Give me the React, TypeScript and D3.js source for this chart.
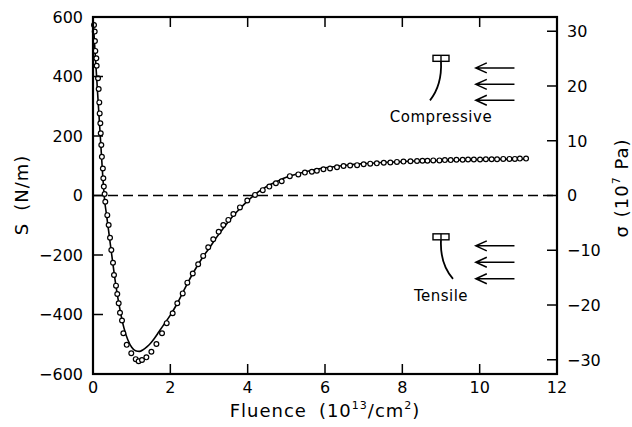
import React, { useRef, useEffect } from "react";
import * as d3 from "d3";

// measured points (open circles)
const measFluence = [
  0.026, 0.044, 0.05, 0.06, 0.086, 0.095, 0.13, 0.147, 0.163, 0.173, 0.19, 0.2, 0.215, 0.23, 0.255, 0.267,
  0.28, 0.3, 0.318, 0.37, 0.405, 0.44, 0.474, 0.517, 0.543, 0.595, 0.628, 0.664, 0.698, 0.75, 0.785, 0.872,
  0.99, 1.105, 1.18, 1.267, 1.38, 1.51, 1.64, 1.785, 1.906, 2.06, 2.18, 2.32, 2.44, 2.58, 2.72, 2.85, 2.98,
  3.11, 3.25, 3.37, 3.5, 3.63, 3.8, 3.99, 4.19, 4.39, 4.56, 4.73, 4.88, 5.09, 5.31, 5.48, 5.66, 5.79, 5.96,
  6.13, 6.31, 6.48, 6.65, 6.83, 7.0, 7.17, 7.34, 7.52, 7.69, 7.86, 8.03, 8.21, 8.38, 8.52, 8.65, 8.8, 8.96,
  9.1, 9.25, 9.4, 9.56, 9.7, 9.85, 10.01, 10.16, 10.31, 10.45, 10.61, 10.77, 10.91, 11.04, 11.2,
];
const measStress = [
  573, 551, 519, 486, 461, 436, 394, 358, 313, 276, 243, 209, 170, 130, 91, 58,
  30, 5, -21, -66, -99, -142, -183, -226, -267, -303, -331, -362, -394, -420, -463, -502,
  -530, -550, -557, -553, -544, -525, -499, -463, -429, -396, -362, -329, -293, -262, -231, -203, -174,
  -147, -122, -99, -82, -62, -40, -17, 2, 18, 30, 41, 48, 65, 71, 77, 80, 83, 88,
  91, 95, 99, 101, 102, 105, 107, 108, 110, 111, 113, 114, 115, 116, 117, 117, 118, 118,
  119, 119, 120, 120, 121, 121, 121, 122, 122, 122, 123, 123, 123, 124, 124,
];

// fitted curve (solid line)
const fitFluence = [
  0, 0.05, 0.1, 0.15, 0.2, 0.25, 0.3, 0.35, 0.4, 0.45, 0.5, 0.6, 0.7, 0.8, 0.9, 1.0, 1.1, 1.2, 1.3, 1.4,
  1.5, 1.6, 1.7, 1.8, 2.0, 2.2, 2.4, 2.6, 2.8, 3.0, 3.2, 3.4, 3.6, 3.8, 4.0, 4.2, 4.4, 4.6, 4.8, 5.0,
  5.5, 6.0, 6.5, 7.0, 7.5, 8.0, 9.0, 10.0, 11.2,
];
const fitStress = [
  600, 490, 385, 280, 175, 70, -15, -65, -115, -165, -215, -310, -385, -445, -485, -510, -522, -524, -518, -508,
  -495, -478, -459, -440, -402, -358, -306, -258, -215, -178, -140, -105, -72, -44, -18, 5, 23, 38, 50, 61,
  80, 93, 101, 107, 111, 114, 118, 121, 123,
];

const xTicks = [0, 2, 4, 6, 8, 10, 12];
const yTicks = [600, 400, 200, 0, -200, -400, -600];
const sigmaTicks = [30, 20, 10, 0, -10, -20, -30];

const Chart = () => {
  const ref = useRef(null);

  useEffect(() => {
    const width = 632;
    const height = 427;
    const m = { left: 93, top: 17, right: 557, bottom: 374 };
    const font = "'DejaVu Sans', sans-serif";

    const svg = d3.select(ref.current).attr("width", width).attr("height", height);
    svg.selectAll("*").remove();

    const x = d3.scaleLinear().domain([0, 12]).range([m.left, m.right]);
    const y = d3.scaleLinear().domain([-600, 600]).range([m.bottom, m.top]);
    const ys = d3.scaleLinear().domain([-32.6, 32.6]).range([m.bottom, m.top]);

    // zero line
    svg
      .append("line")
      .attr("x1", x(0))
      .attr("x2", x(12))
      .attr("y1", y(0))
      .attr("y2", y(0))
      .attr("stroke", "#000")
      .attr("stroke-width", 1.5)
      .attr("stroke-dasharray", "10,5");

    // fit line
    const line = d3
      .line()
      .x((d) => x(d[0]))
      .y((d) => y(d[1]))
      .curve(d3.curveMonotoneX);
    svg
      .append("path")
      .attr("d", line(fitFluence.map((f, i) => [f, fitStress[i]])))
      .attr("fill", "none")
      .attr("stroke", "#000")
      .attr("stroke-width", 1.6);

    // circles
    svg
      .selectAll("circle.meas")
      .data(measFluence.map((f, i) => [f, measStress[i]]))
      .enter()
      .append("circle")
      .attr("class", "meas")
      .attr("cx", (d) => x(d[0]))
      .attr("cy", (d) => y(d[1]))
      .attr("r", 2.4)
      .attr("fill", "#fff")
      .attr("stroke", "#000")
      .attr("stroke-width", 1.2);

    // frame
    svg
      .append("rect")
      .attr("x", m.left)
      .attr("y", m.top)
      .attr("width", m.right - m.left)
      .attr("height", m.bottom - m.top)
      .attr("fill", "none")
      .attr("stroke", "#000")
      .attr("stroke-width", 2.2);

    const tl = 10;
    const ticks = svg.append("g").attr("stroke", "#000").attr("stroke-width", 1.5);
    xTicks.forEach((t) => {
      ticks.append("line").attr("x1", x(t)).attr("x2", x(t)).attr("y1", m.bottom).attr("y2", m.bottom - tl);
      ticks.append("line").attr("x1", x(t)).attr("x2", x(t)).attr("y1", m.top).attr("y2", m.top + tl);
    });
    yTicks.forEach((t) => {
      ticks.append("line").attr("x1", m.left).attr("x2", m.left + tl).attr("y1", y(t)).attr("y2", y(t));
    });
    sigmaTicks.forEach((t) => {
      ticks.append("line").attr("x1", m.right).attr("x2", m.right - tl).attr("y1", ys(t)).attr("y2", ys(t));
    });

    const fmt = (v) => (v < 0 ? "\u2212" + Math.abs(v) : String(v));

    svg
      .append("g")
      .selectAll("text")
      .data(xTicks)
      .enter()
      .append("text")
      .attr("x", (d) => x(d))
      .attr("y", m.bottom + 19)
      .attr("text-anchor", "middle")
      .style("font-family", font)
      .style("font-size", "16px")
      .text((d) => d);

    svg
      .append("g")
      .selectAll("text")
      .data(yTicks)
      .enter()
      .append("text")
      .attr("x", m.left - 10)
      .attr("y", (d) => y(d))
      .attr("dy", "0.36em")
      .attr("text-anchor", "end")
      .style("font-family", font)
      .style("font-size", "16px")
      .text(fmt);

    svg
      .append("g")
      .selectAll("text")
      .data(sigmaTicks)
      .enter()
      .append("text")
      .attr("x", m.right + 10)
      .attr("y", (d) => ys(d))
      .attr("dy", "0.36em")
      .attr("text-anchor", "start")
      .style("font-family", font)
      .style("font-size", "16px")
      .text(fmt);

    // x title
    const xt = svg
      .append("text")
      .attr("x", (m.left + m.right) / 2)
      .attr("y", 417)
      .attr("text-anchor", "middle")
      .style("font-family", font)
      .style("font-size", "18px")
      .style("letter-spacing", "1px");
    xt.append("tspan").text("Fluence");
    xt.append("tspan").attr("dx", 12).text("(10");
    xt.append("tspan").attr("dy", -8).style("font-size", "11px").text("13");
    xt.append("tspan").attr("dy", 8).text("/cm");
    xt.append("tspan").attr("dy", -8).style("font-size", "11px").text("2");
    xt.append("tspan").attr("dy", 8).text(")");

    // left title
    const lt = svg
      .append("text")
      .attr("transform", `translate(28,195) rotate(-90)`)
      .attr("text-anchor", "middle")
      .style("font-family", font)
      .style("font-size", "18px")
      .style("letter-spacing", "1px");
    lt.append("tspan").text("S");
    lt.append("tspan").attr("dx", 12).text("(N/m)");

    // right title
    const rt = svg
      .append("text")
      .attr("transform", `translate(628,188) rotate(-90)`)
      .attr("text-anchor", "middle")
      .style("font-family", font)
      .style("font-size", "18px")
      .style("letter-spacing", "1px");
    rt.append("tspan").text("\u03c3");
    rt.append("tspan").attr("dx", 8).text("(10");
    rt.append("tspan").attr("dy", -8).style("font-size", "11px").text("7");
    rt.append("tspan").attr("dy", 8).text(" Pa)");

    // annotations: bar icon, leader, label, arrows
    const note = (sTop, label, bend, labelY, arrowS) => {
      const g = svg.append("g").attr("stroke", "#000").attr("fill", "none");
      const cx = x(9.0);
      const top = ys(sTop);
      g.append("rect").attr("x", cx - 8).attr("y", top).attr("width", 16).attr("height", 6).attr("stroke-width", 1.4);
      g.append("line").attr("x1", cx).attr("x2", cx).attr("y1", top).attr("y2", top + 6).attr("stroke-width", 1.4);
      g.append("path")
        .attr("d", `M${cx},${top + 6} Q${cx - bend * 0.1},${top + 30} ${cx + bend},${top + 45}`)
        .attr("stroke-width", 1.8);
      svg
        .append("text")
        .attr("x", cx)
        .attr("y", labelY)
        .attr("text-anchor", "middle")
        .style("font-family", font)
        .style("font-size", "15px")
        .style("letter-spacing", "0.5px")
        .text(label);
      arrowS.forEach((s) => {
        const ay = ys(s);
        const x0 = x(9.9);
        const x1 = x(10.9);
        g.append("path")
          .attr("d", `M${x1},${ay} L${x0},${ay} M${x0 + 11},${ay - 5} L${x0},${ay} L${x0 + 11},${ay + 5}`)
          .attr("stroke-width", 1.5);
      });
    };
    note(25.6, "Compressive", -11, 122, [23.3, 20.3, 17.4]);
    note(-7.0, "Tensile", 12, 301, [-9.2, -12.2, -15.2]);
  }, []);

  return <svg ref={ref} style={{ position: "absolute", left: 0, top: 0, background: "#fff" }}></svg>;
};

export default function App() {
  return <Chart />;
}
